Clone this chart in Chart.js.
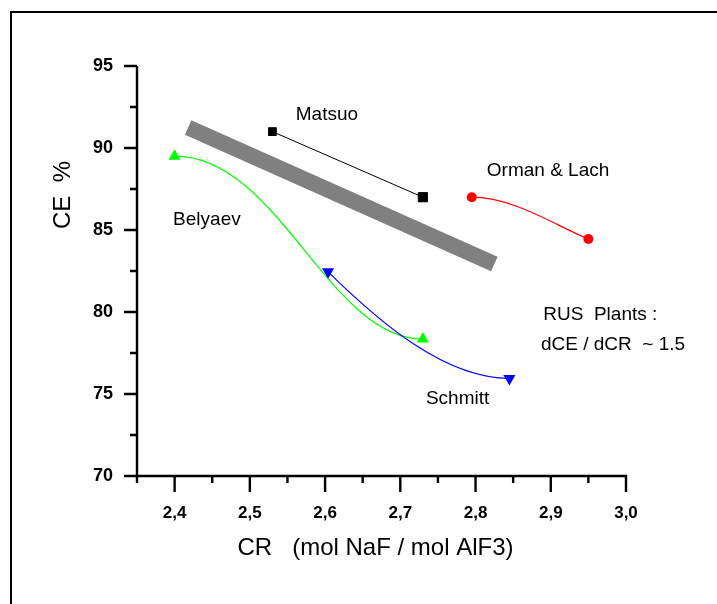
<!DOCTYPE html>
<html>
<head>
<meta charset="utf-8">
<script src="https://cdn.jsdelivr.net/npm/chart.js@4.4.0/dist/chart.umd.min.js"></script>
<style>
  html, body { margin: 0; padding: 0; background: #fff; overflow: hidden; }
  #wrap { position: relative; width: 717px; height: 604px; }
  #frame { position: absolute; left: 10px; top: 11px; width: 800px; height: 700px; border: 2px solid #000; }
  #chart { position: absolute; left: 0; top: 0; }
</style>
</head>
<body>
<div id="wrap">
  <div id="frame"></div>
  <canvas id="chart" width="717" height="604"></canvas>
</div>
<script>
// data
const matsuoCR = [2.53, 2.73];
const matsuoCE = [91.0, 87.0];
const belyaevCR = [2.40, 2.73];
const belyaevCE = [89.5, 78.35];
const schmittCR = [2.604, 2.845];
const schmittCE = [82.45, 75.95];
const ormanCR = [2.795, 2.95];
const ormanCE = [87.0, 84.45];
const bandCR = [2.418, 2.825];   // grey "RUS plants" trend band
const bandCE = [91.25, 82.93];

const xMin = 2.35, xMax = 3.0, xStep = 0.05;
const yMin = 70, yMax = 95, yStep = 2.5;

const noteTexts = ["Matsuo", "Orman & Lach", "Belyaev", "Schmitt", "RUS  Plants :", "dCE / dCR  ~ 1.5"];
const noteCR = [2.561, 2.815, 2.398, 2.734, 2.890, 2.887];
const noteCE = [92.0, 88.6, 85.6, 74.73, 79.85, 77.99];

const xTitle = "CR   (mol NaF / mol AlF3)";
const yTitle = "CE  %";

const pts = (xs, ys) => xs.map((x, i) => ({ x, y: ys[i] }));
const FONT = "'Liberation Sans', Arial, sans-serif";

// draws the spline-like connectors, the axes with major/minor ticks and the text notes
const overlay = {
  id: "overlay",
  beforeDatasetsDraw(chart) {
    const ctx = chart.ctx;
    chart.data.datasets.forEach((ds, i) => {
      if (!ds.curve) return;
      const el = chart.getDatasetMeta(i).data;
      const a = el[0], b = el[1], c = ds.curve;
      const dx = b.x - a.x, dy = b.y - a.y;
      ctx.save();
      ctx.strokeStyle = ds.borderColor;
      ctx.lineWidth = 1.2;
      ctx.beginPath();
      ctx.moveTo(a.x, a.y);
      ctx.bezierCurveTo(a.x + c[0] * dx, a.y + c[1] * dy, b.x + c[2] * dx, b.y + c[3] * dy, b.x, b.y);
      ctx.stroke();
      ctx.restore();
    });
  },
  afterDraw(chart) {
    const ctx = chart.ctx;
    const xs = chart.scales.x, ys = chart.scales.y;
    const area = chart.chartArea;
    ctx.save();
    ctx.strokeStyle = "#000";
    ctx.lineWidth = 2.4;
    ctx.lineCap = "butt";
    ctx.beginPath();
    ctx.moveTo(area.left, area.top);
    ctx.lineTo(area.left, area.bottom);
    ctx.moveTo(area.left - 1.2, area.bottom);
    ctx.lineTo(area.right + 1.2, area.bottom);
    ys.ticks.forEach(t => {
      const py = ys.getPixelForValue(t.value);
      const major = Math.abs(t.value / 5 - Math.round(t.value / 5)) < 1e-6;
      ctx.moveTo(area.left - (major ? 13 : 7), py);
      ctx.lineTo(area.left, py);
    });
    xs.ticks.forEach(t => {
      const px = xs.getPixelForValue(t.value);
      const major = Math.round(t.value * 100) % 10 === 0;
      ctx.moveTo(px, area.bottom);
      ctx.lineTo(px, area.bottom + (major ? 16 : 7));
    });
    ctx.stroke();

    ctx.fillStyle = "#000";
    ctx.textBaseline = "middle";
    ctx.textAlign = "left";
    ctx.font = "19px " + FONT;
    noteTexts.forEach((s, i) => {
      ctx.fillText(s, xs.getPixelForValue(noteCR[i]), ys.getPixelForValue(noteCE[i]));
    });

    ctx.font = "24px " + FONT;
    ctx.textAlign = "center";
    ctx.fillText(xTitle, (area.left + area.right) / 2 - 6, area.bottom + 72);
    ctx.translate(63, 195);
    ctx.rotate(-Math.PI / 2);
    ctx.fillText(yTitle, 0, 0);
    ctx.restore();
  }
};

new Chart(document.getElementById("chart"), {
  type: "scatter",
  data: {
    datasets: [
      {
        label: "RUS plants",
        data: pts(bandCR, bandCE),
        showLine: true,
        borderColor: "#808080",
        borderWidth: 16,
        borderCapStyle: "butt",
        pointRadius: 0,
      },
      {
        label: "Matsuo",
        data: pts(matsuoCR, matsuoCE),
        showLine: true,
        borderColor: "#000",
        borderWidth: 1,
        pointStyle: "rect",
        pointRadius: [5.5, 6.5],
        backgroundColor: "#000",
      },
      {
        label: "Belyaev",
        data: pts(belyaevCR, belyaevCE),
        showLine: false,
        curve: [0.42, 0, -0.38, 0],
        borderColor: "#00ff00",
        backgroundColor: "#00ff00",
        pointStyle: "triangle",
        pointRadius: 7,
      },
      {
        label: "Schmitt",
        data: pts(schmittCR, schmittCE),
        showLine: false,
        curve: [0.3, 0.5, -0.35, 0],
        borderColor: "#0000ff",
        backgroundColor: "#0000ff",
        pointStyle: "triangle",
        rotation: 180,
        pointRadius: 7,
      },
      {
        label: "Orman & Lach",
        data: pts(ormanCR, ormanCE),
        showLine: false,
        curve: [0.35, 0, -0.3, -0.35],
        borderColor: "#ff0000",
        backgroundColor: "#ff0000",
        pointStyle: "circle",
        pointRadius: 5,
      },
    ],
  },
  options: {
    responsive: false,
    animation: false,
    layout: { padding: { top: 66, right: 91, left: 0, bottom: 0 } },
    plugins: { legend: { display: false }, tooltip: { enabled: false } },
    elements: { point: { borderWidth: 0 } },
    scales: {
      x: {
        type: "linear",
        min: xMin,
        max: xMax,
        afterFit: (s) => { s.height = 128; },
        grid: { display: false, drawTicks: false },
        border: { display: false },
        ticks: {
          stepSize: xStep,
          padding: 27,
          color: "#000",
          maxRotation: 0,
          autoSkip: false,
          font: { family: FONT, size: 17, weight: "bold" },
          callback: (v) => (Math.round(v * 100) % 10 === 0 ? v.toFixed(1).replace(".", ",") : ""),
        },
      },
      y: {
        type: "linear",
        min: yMin,
        max: yMax,
        afterFit: (s) => { s.width = 137; },
        grid: { display: false, drawTicks: false },
        border: { display: false },
        ticks: {
          stepSize: yStep,
          padding: 24,
          color: "#000",
          autoSkip: false,
          font: { family: FONT, size: 18, weight: "bold" },
          callback: (v) => (Math.abs(v / 5 - Math.round(v / 5)) < 1e-6 ? String(Math.round(v)) : ""),
        },
      },
    },
  },
  plugins: [overlay],
});
</script>
</body>
</html>
